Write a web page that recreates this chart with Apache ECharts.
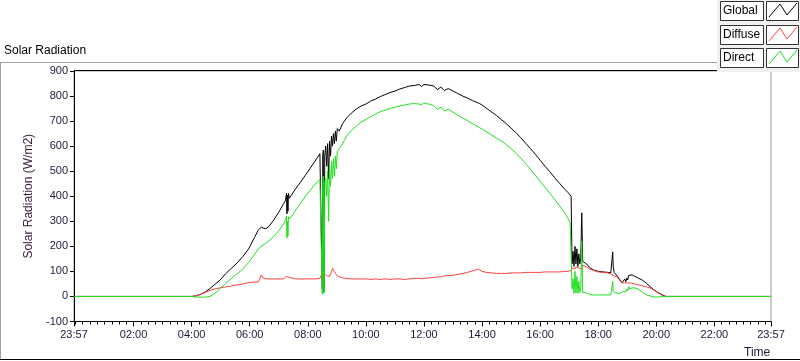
<!DOCTYPE html>
<html>
<head>
<meta charset="utf-8">
<script src="https://cdn.jsdelivr.net/npm/echarts@6/dist/echarts.min.js"></script>
<style>
  html, body { margin: 0; padding: 0; background: #fff; }
  #chart { width: 800px; height: 361px; }
</style>
</head>
<body>
<div id="chart"></div>
<script>
// time in minutes from midnight (23:57 of the day before = -3)
var times = [
  -3, 240, 248, 258, 268, 278, 288, 298, 310, 322, 334, 346, 358, 370, 378, 384, 388, 393, 400, 410,
  420, 430, 434, 436, 437, 438, 439, 440, 442, 446, 455, 465, 475, 485, 495, 505, 509, 510, 511, 512,
  513, 514, 515, 517, 519, 521, 523, 525, 527, 529, 531, 533, 535, 537, 539, 541, 545, 552, 560, 570,
  580, 590, 600, 610, 620, 630, 640, 650, 660, 670, 680, 690, 700, 710, 715, 720, 730, 740, 748, 755,
  762, 770, 780, 790, 800, 810, 820, 830, 835, 840, 850, 860, 870, 880, 890, 900, 910, 920, 930, 940,
  950, 960, 970, 980, 990, 1000, 1010, 1018, 1022, 1024, 1026, 1028, 1030, 1032, 1034, 1036, 1038, 1040, 1042, 1044,
  1046, 1048, 1050, 1056, 1062, 1070, 1080, 1090, 1100, 1106, 1108, 1110, 1111, 1113, 1116, 1120, 1125, 1129, 1132, 1135,
  1137, 1139, 1141, 1143, 1145, 1147, 1150, 1156, 1164, 1172, 1180, 1187, 1194, 1201, 1208, 1214, 1220, 1437
];
var globalVals = [
  0, 0, 2, 8, 18, 32, 48, 64, 90, 112, 134, 160, 190, 236, 266, 276, 272, 270, 280, 306,
  336, 370, 384, 412, 330, 405, 340, 412, 392, 396, 430, 456, 484, 512, 540, 570, 576, 30, 560, 584,
  20, 40, 560, 600, 520, 610, 470, 620, 560, 640, 600, 650, 610, 660, 620, 670, 660, 690, 712, 732,
  748, 760, 768, 780, 788, 798, 806, 814, 820, 828, 834, 840, 842, 846, 838, 846, 844, 840, 826, 836,
  822, 830, 820, 810, 800, 792, 782, 774, 770, 764, 750, 736, 722, 706, 690, 672, 654, 634, 612, 590,
  568, 544, 520, 498, 474, 452, 430, 414, 408, 400, 130, 180, 120, 200, 130, 190, 120, 170, 130, 150,
  334, 140, 146, 130, 116, 106, 100, 98, 96, 94, 90, 178, 120, 96, 90, 80, 66, 54, 62, 70,
  58, 74, 66, 84, 80, 88, 86, 80, 72, 64, 52, 40, 28, 18, 10, 4, 0, 0
];
var diffuseVals = [
  0, 0, 2, 8, 16, 24, 30, 34, 38, 42, 46, 50, 55, 57, 58, 86, 74, 70, 70, 70,
  70, 70, 72, 80, 86, 86, 84, 80, 76, 70, 70, 70, 70, 70, 70, 72, 90, 100, 96, 92,
  106, 100, 90, 84, 82, 80, 80, 80, 90, 100, 112, 118, 100, 92, 86, 82, 78, 74, 72, 70,
  70, 70, 70, 68, 70, 68, 70, 68, 70, 70, 68, 70, 72, 72, 70, 72, 74, 76, 78, 78,
  82, 84, 84, 88, 92, 96, 102, 108, 106, 100, 96, 94, 92, 92, 92, 94, 94, 94, 96, 96,
  96, 96, 98, 98, 98, 98, 100, 100, 102, 104, 114, 110, 116, 110, 118, 112, 118, 114, 120, 118,
  110, 124, 126, 118, 110, 104, 98, 96, 94, 90, 88, 90, 88, 82, 80, 76, 62, 54, 54, 54,
  54, 54, 54, 54, 54, 54, 52, 50, 46, 42, 38, 34, 26, 18, 12, 6, 0, 0
];
var directVals = [
  0, 0, -2, -3, -3, 0, 12, 30, 52, 72, 90, 110, 136, 168, 190, 200, 206, 212, 222, 240,
  262, 290, 306, 320, 234, 300, 240, 318, 310, 318, 345, 372, 400, 424, 448, 466, 470, 10, 460, 480,
  12, 20, 460, 470, 400, 500, 300, 520, 440, 540, 470, 550, 480, 560, 510, 580, 590, 610, 640, 662,
  680, 696, 706, 718, 728, 738, 744, 750, 756, 760, 764, 768, 770, 768, 764, 772, 768, 762, 746, 756,
  740, 748, 736, 724, 712, 702, 690, 680, 674, 668, 656, 644, 632, 620, 606, 590, 572, 552, 530, 508,
  484, 460, 436, 412, 388, 362, 336, 310, 294, 290, 30, 70, 12, 100, 14, 80, 12, 60, 16, 30,
  220, 16, 20, 14, 8, 6, 6, 6, 6, 6, 6, 60, 20, 14, 14, 12, 12, 14, 20, 24,
  18, 30, 22, 40, 30, 36, 34, 34, 28, 16, 6, 2, -2, -2, -2, 0, 0, 0
];
var xLabelMinutes = [-3, 120, 240, 360, 480, 600, 720, 840, 960, 1080, 1200, 1320, 1437];

function fmtTime(m) {
  var v = (m + 1440) % 1440;
  var h = Math.floor(v / 60), mm = v % 60;
  return (h < 10 ? '0' : '') + h + ':' + (mm < 10 ? '0' : '') + mm;
}
function pairs(vals) {
  return times.map(function (t, i) { return [t, vals[i]]; });
}
var minorTicks = [];
for (var m = 0; m < 1437; m += 15) {
  if (xLabelMinutes.indexOf(m) < 0) minorTicks.push(m);
}

var chart = echarts.init(document.getElementById('chart'), null, { renderer: 'canvas' });
var labelColor = '#1a1a3a';
var font = 'Liberation Sans';

// legend boxes drawn by hand (LabVIEW style)
var legendRows = [
  { name: 'Global', color: '#000', y: 1.5 },
  { name: 'Diffuse', color: '#ff4040', y: 25.5 },
  { name: 'Direct', color: '#1ee01e', y: 48.5 }
];
var legendGraphics = [
  { type: 'rect', z: 10, shape: { x: 717, y: 0, width: 83, height: 72 }, style: { fill: '#f0f0f0' } }
];
legendRows.forEach(function (r) {
  var y = r.y;
  legendGraphics.push(
    { type: 'rect', z: 11, shape: { x: 720.5, y: y, width: 43, height: 19 }, style: { fill: '#fff', stroke: '#333', lineWidth: 1 } },
    { type: 'text', z: 12, x: 723, y: y + 3, style: { text: r.name, fill: '#000', font: '12px Liberation Sans' } },
    { type: 'rect', z: 11, shape: { x: 766.5, y: y, width: 32, height: 19 }, style: { fill: '#fff', stroke: '#333', lineWidth: 1 } },
    { type: 'polyline', z: 12, shape: { points: [[769, y + 15.5], [780, y + 2.5], [787, y + 13.5], [797, y + 1.5]] }, style: { stroke: r.color, lineWidth: 1 } }
  );
});

var option = {
  animation: false,
  backgroundColor: '#fff',
  grid: { left: 74, right: 29, top: 71, bottom: 39.5, show: true, borderColor: '#999', borderWidth: 1 },
  xAxis: [
    {
      type: 'value', min: -3, max: 1437, position: 'bottom',
      axisLine: { show: true, onZero: false, lineStyle: { color: '#000' } },
      splitLine: { show: false },
      axisTick: { show: true, customValues: xLabelMinutes, length: 5, lineStyle: { color: '#000' } },
      axisLabel: { customValues: xLabelMinutes, formatter: fmtTime, color: labelColor, fontFamily: font, fontSize: 11, margin: 8 }
    },
    {
      type: 'value', min: -3, max: 1437, position: 'bottom',
      axisLine: { show: false, onZero: false },
      splitLine: { show: false },
      axisTick: { show: true, customValues: minorTicks, length: 3, lineStyle: { color: '#000' } },
      axisLabel: { show: false }
    }
  ],
  yAxis: {
    type: 'value', min: -100, max: 900, interval: 100,
    name: 'Solar Radiation (W/m2)', nameLocation: 'middle', nameGap: 34,
    nameTextStyle: { color: '#3a2038', fontFamily: font, fontSize: 12 },
    axisLine: { show: true, onZero: false, lineStyle: { color: '#000' } },
    axisTick: { show: true, length: 4, lineStyle: { color: '#000' } },
    splitLine: { show: false },
    axisLabel: { color: labelColor, fontFamily: font, fontSize: 11, margin: 6 }
  },
  series: [
    { name: 'Global', type: 'line', data: pairs(globalVals), showSymbol: false, lineStyle: { color: '#000', width: 1 }, itemStyle: { color: '#000' } },
    { name: 'Diffuse', type: 'line', data: pairs(diffuseVals), showSymbol: false, lineStyle: { color: '#ff4040', width: 1 }, itemStyle: { color: '#ff4040' } },
    { name: 'Direct', type: 'line', data: pairs(directVals), showSymbol: false, lineStyle: { color: '#1ee01e', width: 1 }, itemStyle: { color: '#1ee01e' } }
  ],
  graphic: [
    // outer frame
    { type: 'line', shape: { x1: 0, y1: 62.5, x2: 717, y2: 62.5 }, style: { stroke: '#a0a0a0', lineWidth: 1 } },
    { type: 'line', shape: { x1: 0.5, y1: 62, x2: 0.5, y2: 360 }, style: { stroke: '#a0a0a0', lineWidth: 1 } },
    { type: 'line', shape: { x1: 0, y1: 359.5, x2: 800, y2: 359.5 }, style: { stroke: '#000', lineWidth: 1 } },
    // plot top line
    { type: 'line', shape: { x1: 74, y1: 70.5, x2: 772, y2: 70.5 }, style: { stroke: '#000', lineWidth: 1 } },
    { type: 'text', left: 4, top: 45, style: { text: 'Solar Radiation', fill: '#000', font: '12px Liberation Sans' } },
    { type: 'text', left: 744, top: 347, style: { text: 'Time', fill: labelColor, font: '12px Liberation Sans' } }
  ].concat(legendGraphics)
};
chart.setOption(option);
</script>
</body>
</html>
